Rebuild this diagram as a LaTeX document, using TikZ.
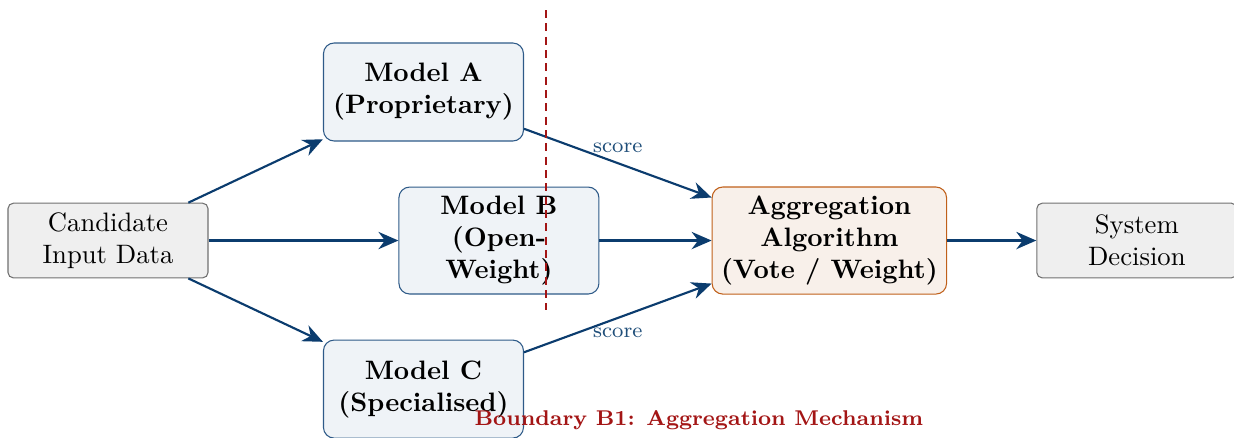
\documentclass[tikz,border=0pt]{standalone}
\usetikzlibrary{positioning,arrows.meta}

\definecolor{navy}{HTML}{0B3C6E}
\definecolor{modelfill}{HTML}{EFF3F7}
\definecolor{modelline}{HTML}{2E5A88}
\definecolor{aggfill}{HTML}{F8F0EA}
\definecolor{aggline}{HTML}{C0601A}
\definecolor{infill}{HTML}{EFEFEF}
\definecolor{inline}{HTML}{707070}
\definecolor{bred}{HTML}{A31515}
\definecolor{scoreblue}{HTML}{1F4E79}

\tikzstyle{inbox} = [align=center,draw=inline,fill=infill,rectangle,rounded corners=2pt,minimum width=75pt,minimum height=28pt,text centered]
\tikzstyle{model} = [align=center,draw=modelline,fill=modelfill,font=\bfseries,rectangle,rounded corners=4pt,minimum width=75pt,minimum height=36.75pt]
\tikzstyle{agg} = [model,draw=aggline,fill=aggfill,minimum width=86.6pt]
\tikzstyle{flow} = [-{Stealth[length=7.5pt,width=6.5pt]},thick,draw=navy]
\tikzstyle{score} = [font=\footnotesize,text=scoreblue]
\tikzstyle{boundary} = [thick,draw=bred,dash pattern=on 3pt off 2pt]

\begin{document}
\begin{tikzpicture}[node distance=1.5cm]
	\useasboundingbox (-40.5pt,-73.7pt) rectangle (422.25pt,90.2pt);
	\node (input) [inbox] {Candidate\\Input Data};
	\node (modelB) [model,node distance=146.6pt,right of=input] {Model B\\(Open-\\Weight)};
	\node (agg) [agg,node distance=123.9pt,right of=modelB] {Aggregation\\Algorithm\\(Vote / Weight)};
	\node (decision) [inbox,node distance=115.3pt,right of=agg] {System\\Decision};
	\node (modelA) [model,on grid,above right=55.7pt and 118.3pt of input] {Model A\\(Proprietary)};
	\node (modelC) [model,on grid,below right=55.7pt and 118.3pt of input] {Model C\\(Specialised)};
	\draw [flow] (input) -- (modelA);
	\draw [flow] (input) -- (modelB);
	\draw [flow] (input) -- (modelC);
	\draw [flow] (modelA) -- node [above,score] {score} (agg);
	\draw [flow] (modelB) -- (agg);
	\draw [flow] (modelC) -- node [below,score] {score} (agg);
	\draw [flow] (agg) -- (decision);
	\coordinate (btop) at (164.25pt,86.4pt);
	\coordinate (bbot) at (164.25pt,-26.1pt);
	\draw [boundary] (btop) -- (bbot);
	\node (blabel) [font=\footnotesize\bfseries,text=bred] at (221.6pt,-67.3pt) {Boundary B1: Aggregation Mechanism};
\end{tikzpicture}
\end{document}
